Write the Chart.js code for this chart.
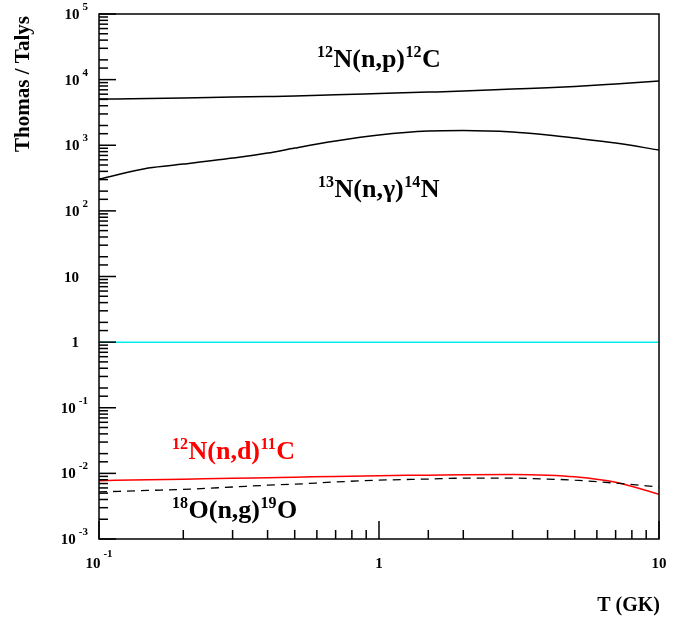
<!DOCTYPE html>
<html>
<head>
<meta charset="utf-8">
<script src="https://cdn.jsdelivr.net/npm/chart.js@4"></script>
<style>
  body { margin: 0; background: #fff; }
  #wrap { width: 685px; height: 618px; }
</style>
</head>
<body>
<div id="wrap"><canvas id="myChart" width="685" height="618"></canvas></div>
<script>
var temps = [0.1, 0.15, 0.2, 0.3, 0.4, 0.5, 0.7, 1, 1.5, 2, 3, 4, 5, 7, 10]

// Thomas / Talys ratios
var n12np = [5060, 5150, 5250, 5420, 5530, 5630, 5880, 6140, 6450, 6700, 7200, 7500, 7850, 8600, 9530]
var n13ng = [305, 449, 516, 638, 760, 906, 1158, 1430, 1645, 1675, 1588, 1430, 1288, 1081, 846]
var n12nd = [0.00774, 0.0080, 0.00817, 0.0084, 0.0086, 0.00875, 0.0090, 0.00922, 0.0094, 0.00955, 0.00962, 0.0094, 0.0089, 0.00735, 0.00482]
var o18ng = [0.00522, 0.0055, 0.0057, 0.0062, 0.0066, 0.00684, 0.0074, 0.00787, 0.0082, 0.00845, 0.00845, 0.0082, 0.00787, 0.0071, 0.00622]
var unity = [1, 1, 1, 1, 1, 1, 1, 1, 1, 1, 1, 1, 1, 1, 1]

var xMin = 0.1, xMax = 10
var yMin = 1e-3, yMax = 1e5

// label pieces: [text, isSuperscript]
var labels = [
    { parts: [['12', 1], ['N(n,p)', 0], ['12', 1], ['C', 0]], x: 317, y: 67, color: '#000' },
    { parts: [['13', 1], ['N(n,\u03b3)', 0], ['14', 1], ['N', 0]], x: 318, y: 197, color: '#000' },
    { parts: [['12', 1], ['N(n,d)', 0], ['11', 1], ['C', 0]], x: 172, y: 459, color: '#ff0000' },
    { parts: [['18', 1], ['O(n,g)', 0], ['19', 1], ['O', 0]], x: 172, y: 518, color: '#000' }
]

var FONT = '"Liberation Serif", "Times New Roman", serif'

function pts(ys){
    return temps.map(function(t, i){ return { x: t, y: ys[i] } })
}

function drawText(ctx, str, x, y, align){
    var w = ctx.measureText(str).width
    var x0 = x
    if (align == 'right') x0 = x - w
    if (align == 'center') x0 = x - w / 2
    ctx.textAlign = 'left'
    ctx.fillText(str, x0, y)
    return w
}

function isMajor(v){
    var l = Math.log10(v)
    return Math.abs(l - Math.round(l)) < 1e-6
}

var rootStyle = {
    id: 'rootStyle',
    afterDraw: function(chart){
        var ctx = chart.ctx
        var a = chart.chartArea
        var xs = chart.scales.x
        var ys = chart.scales.y
        ctx.save()
        ctx.strokeStyle = '#000'
        ctx.fillStyle = '#000'

        // frame
        ctx.lineWidth = 1.5
        ctx.strokeRect(a.left, a.top, a.right - a.left, a.bottom - a.top)

        // y ticks (inward) and labels
        ctx.textBaseline = 'alphabetic'
        ys.ticks.forEach(function(t){
            var py = ys.getPixelForValue(t.value)
            var major = isMajor(t.value)
            ctx.beginPath()
            ctx.moveTo(a.left, py)
            ctx.lineTo(a.left + (major ? 17 : 9), py)
            ctx.stroke()
            if (!major) return
            var e = Math.round(Math.log10(t.value))
            if (e == 0 || e == 1){
                ctx.font = 'bold 15px ' + FONT
                drawText(ctx, e == 0 ? '1' : '10', 79, py + 5, 'right')
            } else {
                ctx.font = 'bold 11px ' + FONT
                var ew = drawText(ctx, String(e), 88, py - 4, 'right')
                ctx.font = 'bold 15px ' + FONT
                drawText(ctx, '10', 88 - ew - 3, py + 5, 'right')
            }
        })

        // x ticks (inward) and labels
        xs.ticks.forEach(function(t){
            var px = xs.getPixelForValue(t.value)
            var major = isMajor(t.value)
            ctx.beginPath()
            ctx.moveTo(px, a.bottom)
            ctx.lineTo(px, a.bottom - (major ? 18 : 9))
            ctx.stroke()
            if (!major) return
            var e = Math.round(Math.log10(t.value))
            ctx.font = 'bold 15px ' + FONT
            if (e == 0 || e == 1){
                drawText(ctx, e == 0 ? '1' : '10', px, 568, 'center')
            } else {
                var w10 = ctx.measureText('10').width
                ctx.font = 'bold 11px ' + FONT
                var we = ctx.measureText(String(e)).width
                var x0 = px - (w10 + 3 + we) / 2
                drawText(ctx, String(e), x0 + w10 + 3, 557, 'left')
                ctx.font = 'bold 15px ' + FONT
                drawText(ctx, '10', x0, 568, 'left')
            }
        })

        // axis titles
        ctx.font = 'bold 20px ' + FONT
        drawText(ctx, 'T (GK)', 660, 611, 'right')
        ctx.save()
        ctx.translate(29, 84)
        ctx.rotate(-Math.PI / 2)
        ctx.font = 'bold 21px ' + FONT
        drawText(ctx, 'Thomas / Talys', 0, 0, 'center')
        ctx.restore()

        // reaction labels
        labels.forEach(function(lb){
            var x = lb.x
            ctx.fillStyle = lb.color
            lb.parts.forEach(function(p){
                if (p[1]){
                    ctx.font = 'bold 16px ' + FONT
                    x += drawText(ctx, p[0], x, lb.y - 10, 'left') + 0.5
                } else {
                    ctx.font = 'bold 26px ' + FONT
                    x += drawText(ctx, p[0], x, lb.y, 'left') + 0.5
                }
            })
        })
        ctx.restore()
    }
}

var ctx = document.getElementById('myChart').getContext('2d')
var myChart = new Chart(ctx, {
    type: 'line',
    data: {
        datasets: [
            { label: 'unity', data: pts(unity), borderColor: '#00eeee', borderWidth: 1.5 },
            { label: '12N(n,p)12C', data: pts(n12np), borderColor: '#000', borderWidth: 1.5 },
            { label: '13N(n,g)14N', data: pts(n13ng), borderColor: '#000', borderWidth: 1.5 },
            { label: '18O(n,g)19O', data: pts(o18ng), borderColor: '#000', borderWidth: 1.3, borderDash: [8, 6] },
            { label: '12N(n,d)11C', data: pts(n12nd), borderColor: '#ff0000', borderWidth: 1.5 }
        ]
    },
    options: {
        responsive: false,
        animation: false,
        devicePixelRatio: 1,
        layout: { padding: { left: 99, top: 14, right: 26, bottom: 79 } },
        elements: {
            point: { radius: 0 },
            line: { cubicInterpolationMode: 'monotone', fill: false }
        },
        plugins: {
            legend: { display: false },
            tooltip: { enabled: false }
        },
        scales: {
            x: {
                type: 'logarithmic', min: xMin, max: xMax,
                grid: { display: false, drawTicks: false },
                border: { display: false },
                ticks: { display: false }
            },
            y: {
                type: 'logarithmic', min: yMin, max: yMax,
                grid: { display: false, drawTicks: false },
                border: { display: false },
                ticks: { display: false }
            }
        }
    },
    plugins: [rootStyle]
})
</script>
</body>
</html>
